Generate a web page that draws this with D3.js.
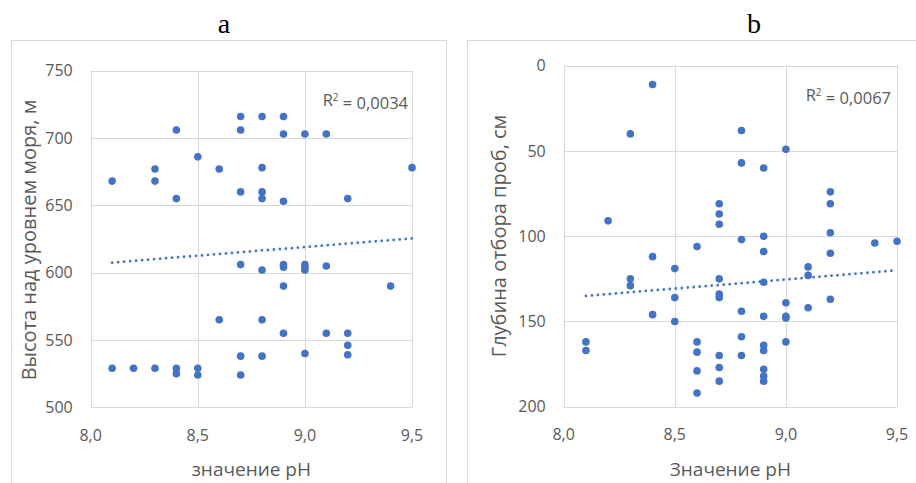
<!DOCTYPE html>
<html>
<head>
<meta charset="utf-8">
<script src="https://cdn.jsdelivr.net/npm/d3@7"></script>
<style>
  body { margin: 0; background: #fff; }
  text { font-family: "Open Sans", "Noto Sans", sans-serif; fill: #595959; }
  .title { font-family: "Liberation Serif", "DejaVu Serif", serif; fill: #000; }
</style>
</head>
<body>
<svg id="chart" width="916" height="483"></svg>
<script>
// panel a: pH vs altitude (m)
var phA = [8.1, 8.1, 8.2, 8.3, 8.3, 8.3, 8.4, 8.4, 8.4, 8.4, 8.5, 8.5, 8.5, 8.6, 8.6,
  8.7, 8.7, 8.7, 8.7, 8.7, 8.7, 8.8, 8.8, 8.8, 8.8, 8.8, 8.8, 8.8,
  8.9, 8.9, 8.9, 8.9, 8.9, 8.9, 8.9, 9.0, 9.0, 9.0, 9.0, 9.0,
  9.1, 9.1, 9.1, 9.2, 9.2, 9.2, 9.2, 9.4, 9.5];
var altA = [668, 529, 529, 677, 668, 529, 706, 655, 529, 525, 686, 529, 524, 677, 565,
  716, 706, 660, 606, 538, 524, 716, 678, 660, 655, 602, 565, 538,
  716, 703, 653, 606, 604, 590, 555, 703, 606, 602, 540, 604,
  703, 605, 555, 655, 555, 546, 539, 590, 678];
var trendA = [[8.1, 607.5], [9.5, 625.5]];

// panel b: pH vs sampling depth (cm)
var phB = [8.1, 8.1, 8.2, 8.3, 8.3, 8.3, 8.4, 8.4, 8.4, 8.5, 8.5, 8.5,
  8.6, 8.6, 8.6, 8.6, 8.6,
  8.7, 8.7, 8.7, 8.7, 8.7, 8.7, 8.7, 8.7, 8.7,
  8.8, 8.8, 8.8, 8.8, 8.8, 8.8,
  8.9, 8.9, 8.9, 8.9, 8.9, 8.9, 8.9, 8.9, 8.9, 8.9,
  9.0, 9.0, 9.0, 9.0, 9.0, 9.1, 9.1, 9.1,
  9.2, 9.2, 9.2, 9.2, 9.2, 9.4, 9.5];
var depthB = [162, 167, 91, 40, 125, 129, 11, 112, 146, 119, 136, 150,
  106, 162, 168, 179, 192,
  81, 87, 93, 125, 134, 136, 170, 177, 185,
  38, 57, 102, 144, 159, 170,
  60, 100, 109, 127, 147, 164, 167, 178, 182, 185,
  49, 139, 147, 148, 162, 118, 123, 142,
  74, 81, 98, 110, 137, 104, 103];
var trendB = [[8.1, 135], [9.5, 120]];

var xTicks = [8.0, 8.5, 9.0, 9.5];
var yTicksA = [500, 550, 600, 650, 700, 750];
var yTicksB = [0, 50, 100, 150, 200];

var svg = d3.select("#chart");
var fmt = function (d) { return d3.format(".1f")(d).replace(".", ","); };
var blue = "#4472c4", grid = "#d9d9d9";

function panel(o) {
  var g = svg.append("g");
  // chart frame
  g.append("rect").attr("x", o.frame[0] + 0.5).attr("y", 40.5)
    .attr("width", o.frame[1] - o.frame[0]).attr("height", 500)
    .attr("fill", "none").attr("stroke", grid);
  g.append("text").attr("class", "title").attr("x", o.titleX).attr("y", 33)
    .attr("text-anchor", "middle").style("font-size", "28px").text(o.title);

  var x = d3.scaleLinear().domain([8.0, 9.5]).range([o.left, o.right]);
  var y = d3.scaleLinear().domain(o.yDomain).range([o.bottom, o.top]);

  g.append("g").selectAll("line").data(o.yTicks).enter().append("line")
    .attr("x1", o.left).attr("x2", o.right)
    .attr("y1", function (d) { return Math.round(y(d)) + 0.5; })
    .attr("y2", function (d) { return Math.round(y(d)) + 0.5; })
    .attr("stroke", grid);
  g.append("g").selectAll("line").data(xTicks).enter().append("line")
    .attr("y1", o.top).attr("y2", o.bottom)
    .attr("x1", function (d) { return Math.round(x(d)) + 0.5; })
    .attr("x2", function (d) { return Math.round(x(d)) + 0.5; })
    .attr("stroke", grid);

  g.append("g").selectAll("text").data(o.yTicks).enter().append("text")
    .attr("x", o.left - 18).attr("y", function (d) { return y(d); })
    .attr("dy", "0.36em").attr("text-anchor", "end").style("font-size", "16px")
    .text(function (d) { return d; });
  g.append("g").selectAll("text").data(xTicks).enter().append("text")
    .attr("x", function (d) { return x(d); }).attr("y", o.bottom + 28)
    .attr("dy", "0.36em").attr("text-anchor", "middle").style("font-size", "16px")
    .text(fmt);

  g.append("text").attr("x", (o.left + o.right) / 2).attr("y", 469)
    .attr("dy", "0.36em").attr("text-anchor", "middle").style("font-size", "19px")
    .text(o.xTitle);
  g.append("text")
    .attr("transform", "translate(" + o.yTitleX + "," + o.yTitleY + ") rotate(-90)")
    .attr("dy", "0.36em").attr("text-anchor", "middle").style("font-size", "20px")
    .text(o.yTitle);

  g.append("g").selectAll("circle").data(o.xs).enter().append("circle")
    .attr("cx", function (d) { return x(d); })
    .attr("cy", function (d, i) { return y(o.ys[i]); })
    .attr("r", 3.8).attr("fill", blue);

  g.append("path").datum(o.trend)
    .attr("d", d3.line().x(function (d) { return x(d[0]); }).y(function (d) { return y(d[1]); }))
    .attr("fill", "none").attr("stroke", blue).attr("stroke-width", 2.8)
    .attr("stroke-linecap", "round").attr("stroke-dasharray", "0.01 6");

  var r = g.append("text").attr("x", o.r2X).attr("y", o.r2Y)
    .attr("dy", "0.36em").attr("text-anchor", "end").style("font-size", "16.5px");
  r.append("tspan").text("R");
  r.append("tspan").attr("dy", "-0.45em").style("font-size", "10px").text("2");
  r.append("tspan").attr("dy", "0.45em").text(" = " + o.r2);
}

panel({
  frame: [11, 446], title: "a", titleX: 224,
  left: 90.7, right: 412, top: 70.7, bottom: 407.3,
  yDomain: [500, 750], yTicks: yTicksA,
  xs: phA, ys: altA, trend: trendA,
  xTitle: "значение рН", yTitle: "Высота над уровнем моря, м",
  yTitleX: 29, yTitleY: 240, r2X: 408, r2Y: 100, r2: "0,0034"
});
panel({
  frame: [467, 930], title: "b", titleX: 754,
  left: 563.7, right: 897, top: 65.7, bottom: 406.7,
  yDomain: [200, 0], yTicks: yTicksB,
  xs: phB, ys: depthB, trend: trendB,
  xTitle: "Значение рН", yTitle: "Глубина отбора проб, см",
  yTitleX: 499, yTitleY: 236, r2X: 891, r2Y: 95, r2: "0,0067"
});
</script>
</body>
</html>
